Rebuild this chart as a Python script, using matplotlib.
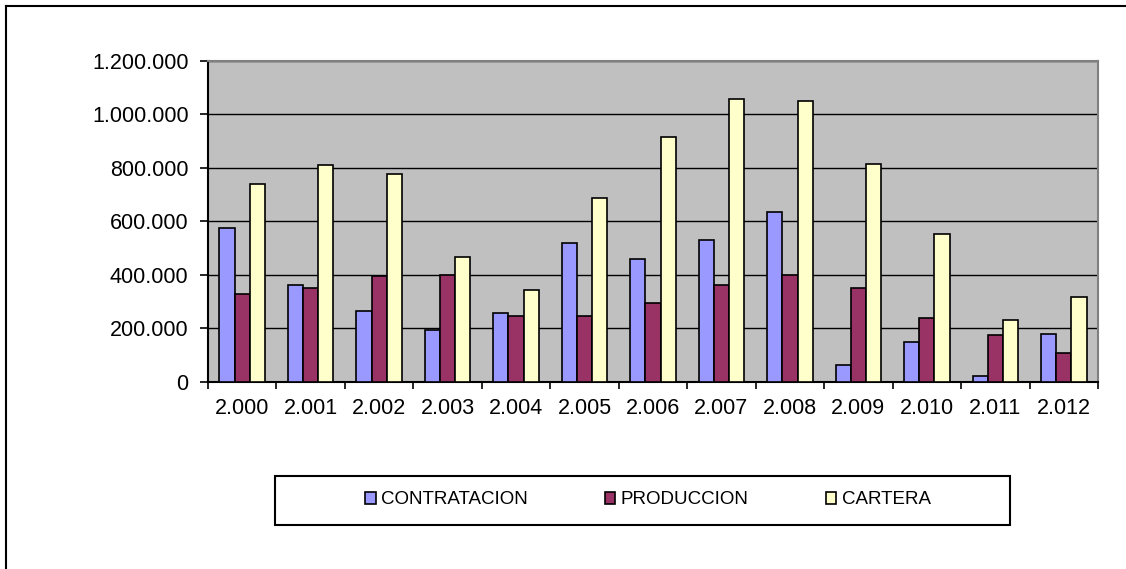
import matplotlib
matplotlib.use("Agg")
import matplotlib.pyplot as plt
import numpy as np
from matplotlib.patches import Rectangle
from matplotlib.lines import Line2D
from matplotlib.ticker import FuncFormatter, MultipleLocator

plt.rcParams["font.family"] = ["Liberation Sans", "DejaVu Sans"]

YEARS = ["2.000", "2.001", "2.002", "2.003", "2.004", "2.005", "2.006",
         "2.007", "2.008", "2.009", "2.010", "2.011", "2.012"]
CONTRATACION = [575000, 361000, 264000, 192000, 257000, 518000, 459000,
                530000, 634000, 64000, 147000, 22000, 179000]
PRODUCCION = [329000, 349000, 394000, 400000, 245000, 245000, 295000,
              361000, 400000, 349000, 239000, 173000, 108000]
CARTERA = [739000, 810000, 779000, 466000, 343000, 688000, 915000,
           1058000, 1050000, 816000, 551000, 232000, 316000]

SERIES = [("CONTRATACION", CONTRATACION, "#9999FF"),
          ("PRODUCCION", PRODUCCION, "#993366"),
          ("CARTERA", CARTERA, "#FFFFCC")]

W, H = 1126, 569
fig = plt.figure(figsize=(W / 100, H / 100), dpi=100)

# outer frame (only left and top visible in the original)
fig.add_artist(Line2D([6 / W, 6 / W], [0, 1 - 6 / H], color="black", lw=1.5,
                      transform=fig.transFigure))
fig.add_artist(Line2D([6 / W, 1], [1 - 6 / H, 1 - 6 / H], color="black", lw=1.5,
                      transform=fig.transFigure))

left, right, top, bottom = 208, 1098, 61, 381.7
ax = fig.add_axes([left / W, 1 - bottom / H, (right - left) / W, (bottom - top) / H])
ax.set_facecolor("#C0C0C0")

x = np.arange(len(YEARS))
bw = 0.222
handles = []
for i, (name, vals, col) in enumerate(SERIES):
    ax.bar(x + (i - 1) * bw, vals, width=bw, color=col, edgecolor="black",
           linewidth=1.2, zorder=3)
    handles.append(Rectangle((0, 0), 1, 1, facecolor=col, edgecolor="black",
                             linewidth=1.2, label=name))

ax.set_xlim(-0.5, len(YEARS) - 0.5)
ax.set_ylim(0, 1200000)
ax.yaxis.set_major_locator(MultipleLocator(200000))
ax.yaxis.set_major_formatter(FuncFormatter(lambda v, p: f"{v:,.0f}".replace(",", ".")))
ax.grid(axis="y", color="black", linewidth=1.0, zorder=1)
ax.set_axisbelow(True)

ax.set_xticks(x)
ax.set_xticklabels(YEARS)
ax.set_xticks(np.arange(-0.5, len(YEARS), 1.0), minor=True)
ax.tick_params(axis="x", which="major", length=0, pad=12, labelsize=15.5)
ax.tick_params(axis="x", which="minor", length=5, width=1.2, direction="out")
ax.tick_params(axis="y", length=6, width=1.2, direction="out", pad=8, labelsize=15.5)

for s in ("left", "bottom"):
    ax.spines[s].set_color("black")
    ax.spines[s].set_linewidth(1.5)
for s in ("top", "right"):
    ax.spines[s].set_color("#808080")
    ax.spines[s].set_linewidth(1.5)

# legend frame
fig.add_artist(Rectangle((275 / W, 1 - 525 / H), (1010 - 275) / W, 49 / H,
                         transform=fig.transFigure, fill=False,
                         edgecolor="black", linewidth=1.5))
fig.legend(handles=handles, loc="center", ncol=3, frameon=False,
           bbox_to_anchor=(648 / W, 1 - 500 / H), fontsize=13.5,
           handlelength=0.55, handleheight=0.55, handletextpad=0.3,
           columnspacing=4.1)

fig.savefig("out.png", dpi=100)
